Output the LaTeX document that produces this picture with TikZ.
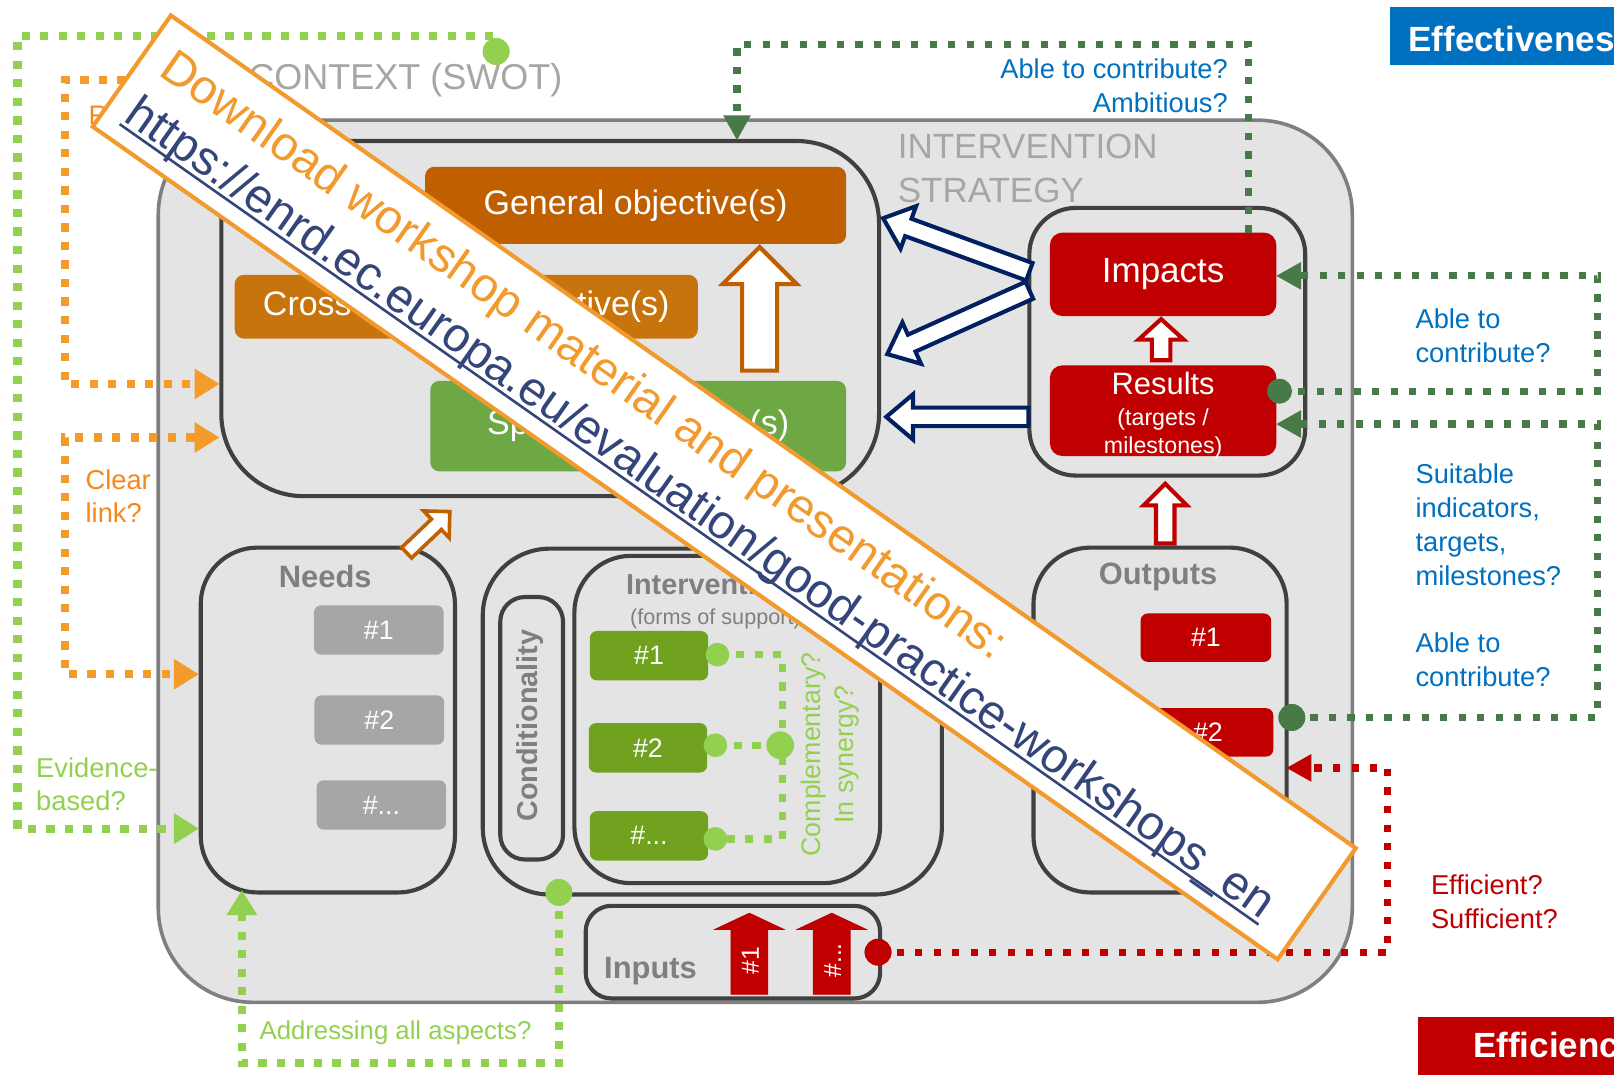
\documentclass[tikz,border=0pt]{standalone}
\usepackage{fontspec}
\setmainfont{Liberation Sans}
\usetikzlibrary{calc,arrows.meta}
\definecolor{mfill}{HTML}{E4E4E4}
\definecolor{mborder}{HTML}{7F7F7F}
\definecolor{bborder}{HTML}{404040}
\definecolor{ctxgray}{HTML}{A6A6A6}
\definecolor{tgray}{HTML}{7F7F7F}
\definecolor{cgen}{HTML}{C05F00}
\definecolor{ccross}{HTML}{C8740C}
\definecolor{cspec}{HTML}{6DA844}
\definecolor{cint}{HTML}{71A21F}
\definecolor{ngray}{HTML}{A6A6A6}
\definecolor{redd}{HTML}{C00000}
\definecolor{navy}{HTML}{002060}
\definecolor{lgreen}{HTML}{92D050}
\definecolor{dgreen}{HTML}{477A47}
\definecolor{orline}{HTML}{F39C2B}
\definecolor{orlabel}{HTML}{F7861C}
\definecolor{bluet}{HTML}{0070C0}
\definecolor{banor}{HTML}{F29A2E}
\definecolor{urlblue}{HTML}{34457A}
\newcommand{\fsz}[2]{\fontsize{#1}{#2}\selectfont}
\newcommand{\blockarrow}[6]{%
  \coordinate (bah) at ($(#2)!#5pt!(#1)$);
  \draw[#6] ($(#1)!#3pt!90:(#2)$) -- ($(bah)!#3pt!90:(#2)$) -- ($(bah)!#4pt!90:(#2)$) -- (#2) -- ($(bah)!#4pt!-90:(#2)$) -- ($(bah)!#3pt!-90:(#2)$) -- ($(#1)!#3pt!-90:(#2)$) -- cycle;
}
\begin{document}
\begin{tikzpicture}[x=1pt,y=-1pt,
  cbox/.style={draw=bborder, line width=4, inner sep=0, anchor=north west},
  ttl/.style={text=tgray, font=\bfseries\fsz{30}{36}, inner sep=0},
  itm/.style={rounded corners=7, inner sep=0, text=white, font=\fsz{26}{31}},
  cdot/.style={circle, inner sep=0, minimum size=#1},
  cdot/.default=24,
  lbl/.style={inner sep=0, align=left, anchor=west},
  lgdot/.style={draw=lgreen, line width=8, dash pattern=on 8pt off 10pt},
  dgdot/.style={draw=dgreen, line width=7, dash pattern=on 7pt off 11pt},
  ordot/.style={draw=orline, line width=8, dash pattern=on 8pt off 10pt},
  rddot/.style={draw=redd, line width=7, dash pattern=on 7pt off 11pt},
  tlg/.style={-{Triangle[length=24pt,width=30pt,line width=0pt]}},
  tor/.style={-{Triangle[length=24pt,width=30pt,line width=0pt]}},
  tor2/.style={{Triangle[length=24pt,width=30pt,line width=0pt]}-{Triangle[length=24pt,width=30pt,line width=0pt]}},
  tdg/.style={-{Triangle[length=24pt,width=27pt,line width=0pt]}},
  trd/.style={-{Triangle[length=24pt,width=27pt,line width=0pt]}}
]
\useasboundingbox (0,0) rectangle (1568,1050);
\clip (0,0) rectangle (1568,1050);
\fill[white] (0,0) rectangle (1568,1050);

% main strategy box
\node[draw=mborder, fill=mfill, line width=3.5, rounded corners=92, minimum width=1160, minimum height=857, inner sep=0, anchor=north west] (main) at (152,115) {};
\node[anchor=north west, text=ctxgray, font=\fsz{34}{43}, align=left, inner sep=0] (strat) at (872,130) {INTERVENTION\\STRATEGY};
\node[anchor=west, text=ctxgray, font=\fsz{35}{42}, inner sep=0] (ctx) at (241,78) {CONTEXT (SWOT)};
\node[anchor=west, text=orlabel, font=\fsz{26}{31}, inner sep=0] (rel) at (86,112) {Relevant?};

% objectives
\node[cbox, rounded corners=80, minimum width=639, minimum height=345] (obj) at (213,135) {};
\node[fill=cgen, rounded corners=9, minimum width=409, minimum height=75, inner sep=0, text=white, font=\fsz{33}{40}] (gen) at (617.5,199.5) {General objective(s)};
\node[fill=ccross, rounded corners=9, minimum width=450, minimum height=62, inner sep=0, text=white, font=\fsz{33}{40}] (cross) at (453,298) {\makebox[395pt][s]{Cross-cutting objective(s)}};
\node[fill=cspec, rounded corners=9, minimum width=404, minimum height=88, inner sep=0, text=white, font=\fsz{33}{40}] (spec) at (620,414) {Specific objective(s)};

% needs
\node[cbox, rounded corners=55, minimum width=247, minimum height=335] (needs) at (193,530) {};
\node[ttl] (needsT) at (316,560) {Needs};
\node[itm, fill=ngray, minimum width=126, minimum height=48] (n1) at (368,612) {\#1};
\node[itm, fill=ngray, minimum width=126, minimum height=48] (n2) at (368.5,699.5) {\#2};
\node[itm, fill=ngray, minimum width=126, minimum height=48] (n3) at (370.5,782) {\#...};

% interventions
\node[cbox, rounded corners=65, minimum width=446, minimum height=336] (intout) at (467,531) {};
\node[cbox, rounded corners=24, minimum width=61, minimum height=255] (cond) at (484,578) {};
\node[rotate=90, text=tgray, font=\bfseries\fsz{28}{34}, inner sep=0] (condT) at (514.5,705) {Conditionality};
\node[cbox, rounded corners=55, minimum width=297, minimum height=318] (intin) at (556,538) {};
\node[ttl, anchor=west, font=\bfseries\fsz{28}{34}] (intT) at (608,568) {Interventions};
\node[anchor=west, text=tgray, font=\fsz{21}{25}, inner sep=0] (intS) at (612,601) {(forms of support)};
\node[itm, fill=cint, minimum width=115, minimum height=48] (i1) at (630.5,637) {\#1};
\node[itm, fill=cint, minimum width=115, minimum height=48] (i2) at (629.5,726.5) {\#2};
\node[itm, fill=cint, minimum width=115, minimum height=48] (i3) at (630.5,812) {\#...};

% inputs
\node[cbox, rounded corners=25, minimum width=286, minimum height=90] (inputs) at (567,878) {};
\node[ttl] (inT) at (632,943) {Inputs};
\coordinate (ia1) at (728,966); \coordinate (ia2) at (728,887);
\coordinate (ib1) at (808,966); \coordinate (ib2) at (808,887);
\blockarrow{ia1}{ia2}{18}{34}{16}{draw=redd, fill=redd, line width=0.5}
\blockarrow{ib1}{ib2}{18}{34}{16}{draw=redd, fill=redd, line width=0.5}
\node[rotate=90, text=white, font=\fsz{24}{28}, inner sep=0] (ia) at (729,933) {\#1};
\node[rotate=90, text=white, font=\fsz{24}{28}, inner sep=0] (ib) at (809,933) {\#...};

% outputs
\node[cbox, rounded corners=55, minimum width=246, minimum height=335] (outputs) at (1002,530) {};
\node[ttl] (outT) at (1125,560) {Outputs};
\node[itm, fill=redd, minimum width=127, minimum height=47] (o1) at (1171.5,619.5) {\#1};
\node[itm, fill=redd, minimum width=127, minimum height=47] (o2) at (1173.5,711.5) {\#2};

% impacts / results
\node[cbox, rounded corners=45, minimum width=268, minimum height=260] (impres) at (998,200) {};
\node[fill=redd, rounded corners=12, minimum width=220, minimum height=81, inner sep=0, text=white, font=\fsz{34}{40}] (imp) at (1130,266.5) {Impacts};
\node[fill=redd, rounded corners=12, minimum width=220, minimum height=88, inner sep=0] (res) at (1130,399) {};
\node[anchor=base, text=white, font=\fsz{30}{36}, inner sep=0] (resT) at (1130,383) {Results};
\node[anchor=base, text=white, font=\fsz{22.5}{27}, inner sep=0] (resT2) at (1130,413) {(targets /};
\node[anchor=base, text=white, font=\fsz{22.5}{27}, inner sep=0] (resT3) at (1130,441) {milestones)};

% block arrows
\coordinate (oa1) at (738,360); \coordinate (oa2) at (738,240);
\blockarrow{oa1}{oa2}{17}{36}{36}{draw=cgen, fill=white, line width=4}
\coordinate (nb1) at (395,537); \coordinate (nb2) at (437,497);
\blockarrow{nb1}{nb2}{7}{18}{18}{draw=cgen, fill=white, line width=3.5}
\coordinate (ra1) at (1128,350); \coordinate (ra2) at (1128,310);
\blockarrow{ra1}{ra2}{9}{22}{20}{draw=redd, fill=white, line width=4}
\coordinate (rb1) at (1132,528); \coordinate (rb2) at (1132,470);
\blockarrow{rb1}{rb2}{9}{21}{21}{draw=redd, fill=white, line width=4}
\coordinate (nv1s) at (1000,264); \coordinate (nv1t) at (858,212);
\coordinate (nv2s) at (1000,282); \coordinate (nv2t) at (862,344);
\coordinate (nv3s) at (999,405); \coordinate (nv3t) at (861,405);
\blockarrow{nv1s}{nv1t}{9}{22}{26}{draw=navy, fill=white, line width=4}
\blockarrow{nv2s}{nv2t}{9}{22}{26}{draw=navy, fill=white, line width=4}
\blockarrow{nv3s}{nv3t}{9}{22}{26}{draw=navy, fill=white, line width=4}

% dots
\node[cdot=26, fill=lgreen] (ctxdot) at (482,50) {};
\node[cdot=26, fill=lgreen] (intdot) at (543,867) {};
\node[cdot=24, fill=dgreen] (resdot) at (1243,380) {};
\node[cdot=26, fill=dgreen] (outdot) at (1255,697) {};
\node[cdot=26, fill=redd] (inpdot) at (853,925) {};
\node[cdot=23] (c1) at (697,636) {};
\node[cdot=23] (c2) at (695,724) {};
\node[cdot=23] (c3) at (695,815) {};
\node[cdot=27] (cm) at (758,724) {};

% connectors
\coordinate (needsL) at (193,805);
\coordinate (needsB) at (235,865);
\coordinate (needsL2) at (193,655);
\coordinate (objL1) at (213,373);
\coordinate (objL2) at (213,425);
\coordinate (orstart) at (230,78);
\coordinate (objT) at (716,136);
\coordinate (impT) at (1213,226);
\coordinate (impR) at (1240,268);
\coordinate (resR) at (1240,412);
\coordinate (outR) at (1250,746);

\draw[lgdot, tlg] (ctxdot.center) |- (17,35) |- (needsL);
\draw[lgdot, tlg] (intdot.center) |- (235,1033) -- (needsB);
\draw[lgdot, line width=7] (c1.center) -- (760,636) -- (760,815) -- (c3.center);
\draw[lgdot, line width=7] (c2.center) -- (cm.center);
\draw[ordot, tor] (orstart) -- (63,78) -- (63,373) -- (objL1);
\draw[ordot, tor2] (objL2) -- (63,425) -- (63,655) -- (needsL2);
\draw[dgdot, tdg] (impT) |- (716,43) -- (objT);
\draw[dgdot, tdg] (resdot.center) -- (1552,380) -- (1552,268) -- (impR);
\draw[dgdot, tdg] (outdot.center) -- (1552,697) -- (1552,412) -- (resR);
\draw[rddot, trd] (inpdot.center) -- (1348,925) -- (1348,746) -- (outR);

% redraw dots on top
\fill[lgreen] (ctxdot) circle (13);
\fill[lgreen] (intdot) circle (13);
\fill[dgreen] (resdot) circle (12);
\fill[dgreen] (outdot) circle (13);
\fill[redd] (inpdot) circle (13);
\fill[lgreen] (c1) circle (11.5);
\fill[lgreen] (c2) circle (11.5);
\fill[lgreen] (c3) circle (11.5);
\fill[lgreen] (cm) circle (13.5);

% labels
\node[inner sep=0, align=right, anchor=east, text=bluet, font=\fsz{26.5}{33}] (lab1) at (1193,83) {Able to contribute?\\Ambitious?};
\node[lbl, text=bluet, font=\fsz{26.5}{33}] (lab2) at (1375,326) {Able to\\contribute?};
\node[lbl, text=bluet, font=\fsz{26.5}{33}] (lab3) at (1375,510) {Suitable\\indicators,\\targets,\\milestones?};
\node[lbl, text=bluet, font=\fsz{26.5}{33}] (lab4) at (1375,641) {Able to\\contribute?};
\node[lbl, text=redd, font=\fsz{26.5}{33}] (lab5) at (1390,876) {Efficient?\\Sufficient?};
\node[lbl, text=orlabel, font=\fsz{26.5}{32}] (lab6) at (83,482) {Clear\\link?};
\node[lbl, text=lgreen, font=\fsz{26.5}{32}] (lab7) at (35,762) {Evidence-\\based?};
\node[lbl, text=lgreen, font=\fsz{25}{30}] (lab8) at (252,1003) {Addressing all aspects?};
\node[inner sep=0, align=center, rotate=90, text=lgreen, font=\fsz{26}{32}] (lab9) at (806,733) {Complementary?\\In synergy?};

% banner
\begin{scope}[shift={(166,15)}, rotate=-35.1]
  \draw[draw=banor, fill=white, line width=4] (0,0) rectangle (1407,132);
  \node[anchor=base west, inner sep=0, transform shape, text=banor, font=\fsz{46.5}{50}] (dl) at (22,54) {Download workshop material and presentations:};
  \node[anchor=base west, inner sep=0, transform shape, text=urlblue, font=\fsz{46.5}{50}] (url) at (20,110) {https://enrd.ec.europa.eu/evaluation/good-practice-workshops\_en};
\end{scope}
\draw[urlblue, line width=2.5] ($(url.base west)!5pt!-90:(url.base east)$) -- ($(url.base east)!5pt!90:(url.base west)$);

% corner tags
\node[fill=bluet, minimum width=260, minimum height=56, inner sep=0, anchor=north west] (effbox) at (1350,7) {};
\node[anchor=west, text=white, font=\bfseries\fsz{34}{40}, inner sep=0] (efftxt) at (1368,38) {Effectiveness};
\node[fill=redd, minimum width=260, minimum height=56, inner sep=0, anchor=north west] (efcbox) at (1377,988) {};
\node[anchor=west, text=white, font=\bfseries\fsz{34}{40}, inner sep=0] (efctxt) at (1431,1019) {Efficiency};
\end{tikzpicture}
\end{document}
